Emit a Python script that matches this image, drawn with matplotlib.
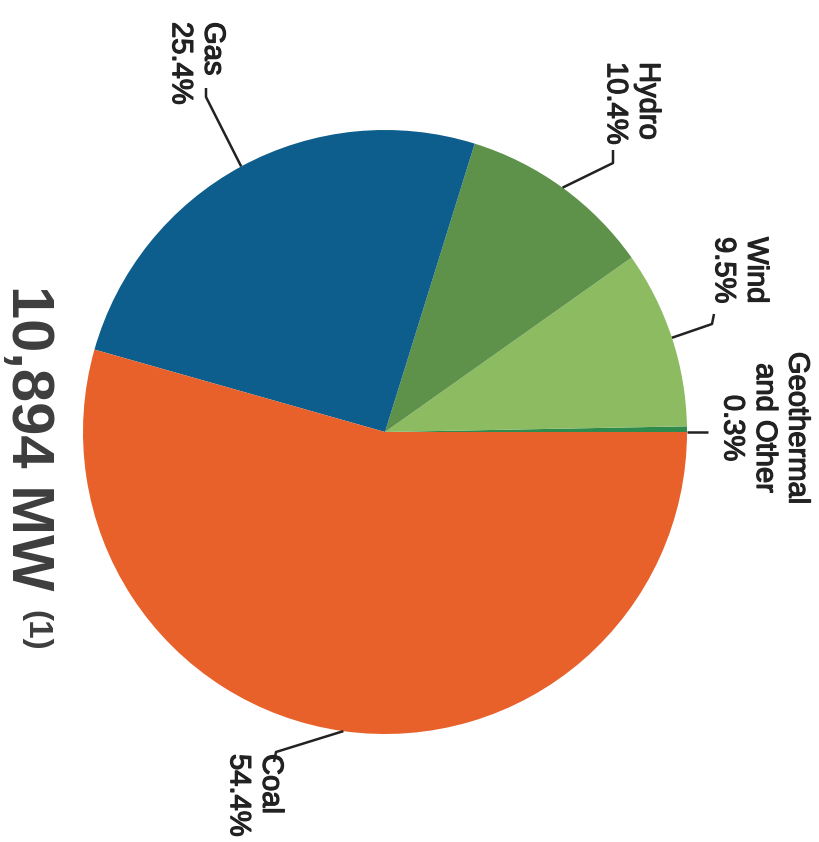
import numpy as np
import matplotlib.pyplot as plt
import matplotlib.patheffects as pe

# generation capacity mix
sources = ['Geothermal\nand Other', 'Wind', 'Hydro', 'Gas', 'Coal']
shares = [0.3, 9.5, 10.4, 25.4, 54.4]
colors = ['#2f8a4e', '#8cbb62', '#5e9149', '#0d5e8c', '#e8602a']
total_mw = '10,894 MW'

W, H = 819, 842
fig = plt.figure(figsize=(W / 100, H / 100), dpi=100)
ax = fig.add_axes([0, 0, 1, 1])

cx, cy, r = 385, H - 432, 302
wedges, _ = ax.pie(shares, colors=colors, startangle=0, counterclock=True,
                   center=(cx, cy), radius=r, frame=True,
                   wedgeprops=dict(linewidth=0))
ax.set_xlim(0, W)
ax.set_ylim(0, H)
ax.set_aspect('equal')
ax.axis('off')

ink = '#222222'
txt = dict(color=ink, fontsize=21, family='Liberation Sans',
           rotation=-90, rotation_mode='anchor',
           path_effects=[pe.withStroke(linewidth=0.9, foreground=ink)])

# elbow points of the leader lines and label anchors (page coords, y from top)
elbows = {
    'Gas': [(206, 97), (206, 88)],
    'Hydro': [(613, 163), (613, 150)],
    'Wind': [(712, 324), (714, 314)],
    'Geothermal\nand Other': [(708, 432)],
    'Coal': [(276, 752), (274, 762)],
}
anchors = {
    'Gas': (197, 22, 'left'),
    'Hydro': (632, 62, 'left'),
    'Wind': (740, 237, 'left'),
    'Geothermal\nand Other': (765, 428, 'center'),
    'Coal': (255, 754, 'left'),
}

for w, name, pct in zip(wedges, sources, shares):
    if name.startswith('Geo'):
        ang = np.deg2rad(w.theta1)
    else:
        ang = np.deg2rad((w.theta1 + w.theta2) / 2)
    pts = [(cx + r * np.cos(ang), cy + r * np.sin(ang))]
    pts += [(x, H - y) for x, y in elbows[name]]
    xs, ys = zip(*pts)
    ax.plot(xs, ys, color=ink, lw=1.8, solid_capstyle='butt')
    x, y, ha = anchors[name]
    ax.text(x, H - y, f'{name}\n{pct}%', ha=ha, va='center',
            multialignment=ha, **txt)

ax.text(12, H - 285, total_mw, ha='left', va='baseline', color='#3d3d3d',
        fontsize=43, fontweight='bold', family='Liberation Sans',
        rotation=-90, rotation_mode='anchor')
ax.text(27, H - 610, '(1)', ha='left', va='baseline', color='#3d3d3d',
        fontsize=24, fontweight='bold', family='Liberation Sans',
        rotation=-90, rotation_mode='anchor')

fig.savefig('out.png', dpi=100, facecolor='white')
